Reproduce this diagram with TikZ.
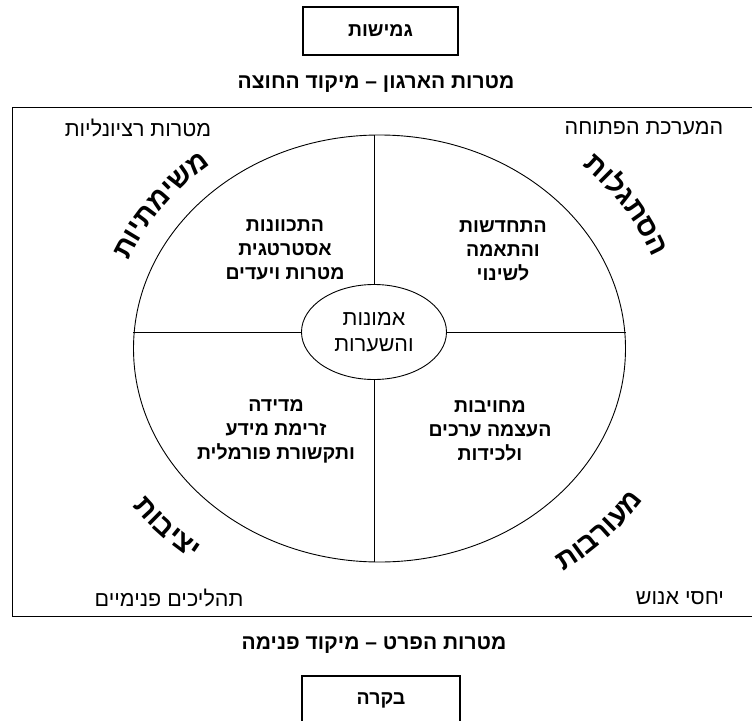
\documentclass[tikz,border=0pt]{standalone}
\usepackage{fontspec}
\TeXXeTstate=1
\newfontfamily\heb[Script=Hebrew]{Liberation Sans}
\usetikzlibrary{shapes.geometric,decorations.text,calc}
\newcommand{\bigheb}{\heb\bfseries\fontsize{28}{32}\selectfont}
\tikzset{
  frame/.style={draw, line width=1.3pt},
  boxnode/.style={draw, line width=1.3pt, minimum width=155pt, minimum height=48pt, inner sep=0pt,
    font=\heb\bfseries\fontsize{19.5}{22}\selectfont},
  ttl/.style={inner sep=0pt, font=\heb\bfseries\fontsize{21}{24}\selectfont},
  lbl/.style={inner sep=0pt, font=\heb\fontsize{21.5}{24}\selectfont},
  quad/.style={inner sep=0pt, align=center, font=\heb\bfseries\fontsize{19.5}{24}\selectfont},
  ring/.style={draw, line width=0.9pt, ellipse, inner sep=0pt},
  divider/.style={draw, line width=0.9pt},
  curved/.style={decorate, decoration={text along path, text align=center, text={|\bigheb|#1}}}
}
\begin{document}
\begin{tikzpicture}[x=1pt, y=-1pt]
\useasboundingbox (0,0) rectangle (752,720);
% boxes and titles
\node[boxnode] (flex) at (380.5,31) {\beginR גמישות\endR};
\node[ttl] (ttop) at (376,84) {\beginR מטרות הארגון – מיקוד החוצה\endR};
\node[frame, rectangle, minimum width=742pt, minimum height=509pt, inner sep=0pt, anchor=north west] (outer) at (12,107) {};
\node[ttl] (tbot) at (374,645) {\beginR מטרות הפרט – מיקוד פנימה\endR};
\node[boxnode, minimum width=158pt] (ctrl) at (381,700) {\beginR בקרה\endR};
% corner labels
\node[lbl] (ctl) at (138,128) {\beginR מטרות רציונליות\endR};
\node[lbl] (ctr) at (644,128) {\beginR המערכת הפתוחה\endR};
\node[lbl] (cbl) at (169,598) {\beginR תהליכים פנימיים\endR};
\node[lbl] (cbr) at (680,598) {\beginR יחסי אנוש\endR};
% ellipses
\node[ring, minimum width=492pt, minimum height=427pt] (big) at (379.5,348.5) {};
\node[ring, minimum width=145pt, minimum height=95pt, align=center,
  font=\heb\fontsize{21.5}{26}\selectfont] (core) at (374,332) {\beginR אמונות\endR\\\beginR והשערות\endR};
% dividers
\draw[divider] (core.north) -- (core.north |- big.north);
\draw[divider] (core.south) -- (core.south |- big.south);
\draw[divider] (core.west) -- (core.west -| big.west);
\draw[divider] (core.east) -- (core.east -| big.east);
% quadrant texts
\node[quad] (qtl) at (285,250) {\beginR התכוונות\endR\\\beginR אסטרטגית\endR\\\beginR מטרות ויעדים\endR};
\node[quad] (qtr) at (503,251) {\beginR התחדשות\endR\\\beginR והתאמה\endR\\\beginR לשינוי\endR};
\node[quad] (qbl) at (276,431) {\beginR מדידה\endR\\\beginR זרימת מידע\endR\\\beginR ותקשורת פורמלית\endR};
\node[quad] (qbr) at (490,431) {\beginR מחויבות\endR\\\beginR העצמה ערכים\endR\\\beginR ולכידות\endR};
% curved words (letters in visual order along the path)
\path[curved={תויתמישמ}] ($(379.5,348.5)+(-190:270.6 and 234.9)$) arc[start angle=-190, end angle=-100, x radius=270.6, y radius=234.9];
\path[curved={תולגתסה}] ($(379.5,348.5)+(-76.8:292.7 and 254)$) arc[start angle=-76.8, end angle=13.2, x radius=292.7, y radius=254];
\path[curved={תוביצי}] ($(379.5,348.5)+(-177.5:307 and 266.5)$) arc[start angle=-177.5, end angle=-267.5, x radius=307, y radius=266.5];
\path[curved={תוברועמ}] ($(379.5,348.5)+(-273:316 and 274.5)$) arc[start angle=-273, end angle=-363, x radius=316, y radius=274.5];
\end{tikzpicture}
\end{document}
